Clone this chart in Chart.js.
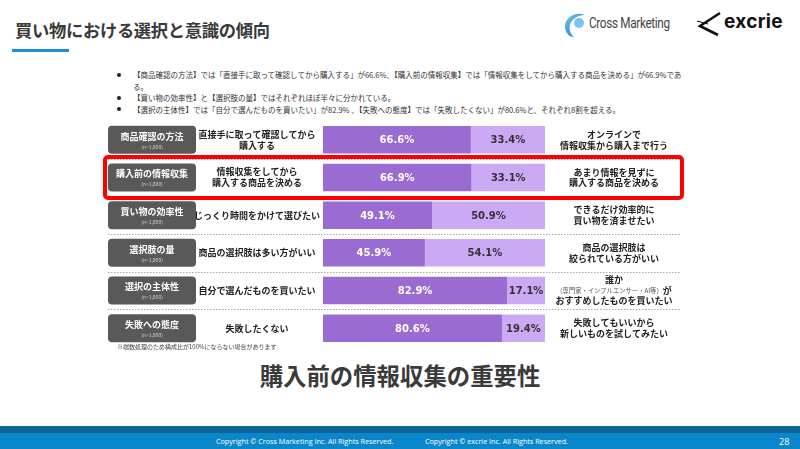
<!DOCTYPE html>
<html lang="ja">
<head>
<meta charset="utf-8">
<script src="https://cdn.jsdelivr.net/npm/chart.js@4/dist/chart.umd.min.js"></script>
<style>
    body { margin: 0; width: 800px; height: 449px; background: #fff; position: relative; overflow: hidden;
        font-family: "Noto Sans CJK JP", "Noto Sans", sans-serif; color: #333; }
    .abs { position: absolute; }
    #title { left: 15px; top: 17px; font-size: 17.3px; font-weight: bold; color: #3a3a3a; letter-spacing: -0.3px; }
    #title-line { left: 12px; top: 49px; width: 57px; height: 3px; background: #1a8fd8; }
    #bullets { left: 117px; top: 69px; font-size: 7.5px; line-height: 11.5px; color: #333; }
    #bullets div { position: relative; padding-left: 16px; }
    #bullets div:before { content: ""; position: absolute; left: 0; top: 3.5px; width: 4px; height: 4px; border-radius: 2px; background: #222; }
    #note { left: 117px; top: 342px; font-size: 6px; color: #444; }
    #subtitle { left: 0; width: 800px; top: 358px; text-align: center; font-size: 23.4px; font-weight: bold; color: #3a3a3a; }
    #chart-wrap { left: 100px; top: 115px; }
    #footer-dark { left: 0; top: 426px; width: 800px; height: 7px; background: #0b6595; }
    #footer { left: 0; top: 433px; width: 800px; height: 16px; background: #0a87cb; color: #fff;
        font-family: "Open Sans", sans-serif; font-size: 7.2px; }
    #footer span { position: absolute; top: 3px; }
    #cm-text { left: 589px; top: 15px; font-family: "Liberation Sans Narrow", "Roboto", sans-serif; font-size: 14px; color: #444;
        letter-spacing: -0.4px; transform: scaleX(0.84); transform-origin: left top; }
    #ex-text { left: 724px; top: 10px; font-family: "Inter", "Roboto", sans-serif; font-weight: bold; font-size: 19px; color: #111; letter-spacing: 0.3px; }
</style>
</head>
<body>
<div id="title" class="abs">買い物における選択と意識の傾向</div>
<div id="title-line" class="abs"></div>

<svg class="abs" style="left:563px;top:12px" width="24" height="26" viewBox="0 0 24 26">
    <defs>
        <linearGradient id="g1" x1="0" y1="0" x2="1" y2="1">
            <stop offset="0" stop-color="#7cc6f0"/>
            <stop offset="1" stop-color="#0a6fc0"/>
        </linearGradient>
    </defs>
    <path d="M22 3 C12 -1 1 6 2 16 C3 22 7 25 11 25 C6 21 5 14 9 9 C12 5 17 3 22 3 Z" fill="url(#g1)"/>
    <circle cx="16" cy="11" r="5" fill="#5ab4ea" opacity="0.8"/>
</svg>
<div id="cm-text" class="abs">Cross Marketing</div>
<svg class="abs" style="left:696px;top:10px" width="28" height="28" viewBox="0 0 28 28">
    <path d="M24 3 L4 16 L22 25" fill="none" stroke="#111" stroke-width="2.6" stroke-linejoin="miter"/>
    <path d="M1 11 L12 14" stroke="#111" stroke-width="1.2"/>
</svg>
<div id="ex-text" class="abs">excrie</div>

<div id="bullets" class="abs">
    <div>【商品確認の方法】では「直接手に取って確認してから購入する」が66.6%、【購入前の情報収集】では「情報収集をしてから購入する商品を決める」が66.9%であ<br>る。</div>
    <div>【買い物の効率性】と【選択肢の量】ではそれぞれほぼ半々に分かれている。</div>
    <div>【選択の主体性】では「自分で選んだものを買いたい」が82.9% 、【失敗への態度】では「失敗したくない」が80.6%と、それぞれ8割を超える。</div>
</div>

<div id="chart-wrap" class="abs">
    <canvas id="chartChoice" width="600" height="240"></canvas>
</div>

<div id="note" class="abs">※端数処理のため構成比が100%にならない場合があります</div>
<div id="subtitle" class="abs">購入前の情報収集の重要性</div>

<div id="footer-dark" class="abs"></div>
<div id="footer" class="abs">
    <span style="left:216px">Copyright © Cross Marketing Inc. All Rights Reserved.</span>
    <span style="left:425px">Copyright © excrie Inc. All Rights Reserved.</span>
    <span style="left:779px;font-size:9px;top:2px">28</span>
</div>

<script>
const categories = ['商品確認の方法', '購入前の情報収集', '買い物の効率性', '選択肢の量', '選択の主体性', '失敗への態度']
const sampleSizes = ['(n=1,800)', '(n=1,800)', '(n=1,800)', '(n=1,800)', '(n=1,800)', '(n=1,800)']
const leftStatements = [
    ['直接手に取って確認してから', '購入する'],
    ['情報収集をしてから', '購入する商品を決める'],
    ['じっくり時間をかけて選びたい'],
    ['商品の選択肢は多い方がいい'],
    ['自分で選んだものを買いたい'],
    ['失敗したくない']
]
const rightStatements = [
    ['オンラインで', '情報収集から購入まで行う'],
    ['あまり情報を見ずに', '購入する商品を決める'],
    ['できるだけ効率的に', '買い物を済ませたい'],
    ['商品の選択肢は', '絞られている方がいい'],
    ['誰か', ['（専門家・インフルエンサー・AI等）', 'が'], 'おすすめしたものを買いたい'],
    ['失敗してもいいから', '新しいものを試してみたい']
]
const leftValues = [66.6, 66.9, 49.1, 45.9, 82.9, 80.6]
const rightValues = [33.4, 33.1, 50.9, 54.1, 17.1, 19.4]
const highlightRow = 1

const jp = '"Noto Sans CJK JP", sans-serif'

function roundRect(ctx, x, y, w, h, r) {
    ctx.beginPath()
    ctx.moveTo(x + r, y)
    ctx.arcTo(x + w, y, x + w, y + h, r)
    ctx.arcTo(x + w, y + h, x, y + h, r)
    ctx.arcTo(x, y + h, x, y, r)
    ctx.arcTo(x, y, x + w, y, r)
    ctx.closePath()
}

// row labels, separators, highlight box
const rowDecor = {
    id: 'rowDecor',
    beforeDatasetsDraw(chart) {
        const ctx = chart.ctx
        const yScale = chart.scales.y
        ctx.save()
        // dotted separators
        ctx.strokeStyle = '#a8a8a8'
        ctx.lineWidth = 1
        ctx.setLineDash([1.5, 1.5])
        for (let i = 0; i < categories.length - 1; i++) {
            let y = Math.round((yScale.getPixelForValue(i) + yScale.getPixelForValue(i + 1)) / 2) + 0.5
            ctx.beginPath()
            ctx.moveTo(8, y)
            ctx.lineTo(580, y)
            ctx.stroke()
        }
        ctx.setLineDash([])
        ctx.textAlign = 'center'
        ctx.textBaseline = 'middle'
        categories.forEach(function(cat, i) {
            let yc = yScale.getPixelForValue(i)
            // gray tag
            ctx.fillStyle = '#595959'
            roundRect(ctx, 8, yc - 14, 88, 28, 4)
            ctx.fill()
            ctx.fillStyle = '#ffffff'
            ctx.font = 'bold 9px ' + jp
            ctx.fillText(cat, 52, yc - 3.5)
            ctx.fillStyle = '#cfcfcf'
            ctx.font = '5px ' + jp
            ctx.fillText(sampleSizes[i], 52, yc + 7)
            // left statement
            ctx.fillStyle = '#222'
            ctx.font = 'bold 9px ' + jp
            let lines = leftStatements[i]
            lines.forEach(function(line, k) {
                ctx.fillText(line, 157, yc + (k - (lines.length - 1) / 2) * 11)
            })
            // right statement
            let rlines = rightStatements[i]
            rlines.forEach(function(line, k) {
                let y = yc + (k - (rlines.length - 1) / 2) * 10.5
                if (Array.isArray(line)) {
                    ctx.font = '6.3px ' + jp
                    let w1 = ctx.measureText(line[0]).width
                    ctx.font = 'bold 9px ' + jp
                    let w2 = ctx.measureText(line[1]).width
                    let x0 = 514 - (w1 + w2) / 2
                    ctx.textAlign = 'left'
                    ctx.fillStyle = '#555'
                    ctx.font = '6.3px ' + jp
                    ctx.fillText(line[0], x0, y)
                    ctx.fillStyle = '#222'
                    ctx.font = 'bold 9px ' + jp
                    ctx.fillText(line[1], x0 + w1, y)
                    ctx.textAlign = 'center'
                } else {
                    ctx.fillStyle = '#222'
                    ctx.font = 'bold 9px ' + jp
                    ctx.fillText(line, 514, y)
                }
            })
        })
        ctx.restore()
    },
    afterDatasetsDraw(chart) {
        const ctx = chart.ctx
        const yScale = chart.scales.y
        ctx.save()
        // value labels
        ctx.textAlign = 'center'
        ctx.textBaseline = 'middle'
        ctx.font = 'bold 10px "DejaVu Sans", sans-serif'
        chart.data.datasets.forEach(function(ds, d) {
            chart.getDatasetMeta(d).data.forEach(function(bar, i) {
                ctx.fillStyle = d == 0 ? '#ffffff' : '#333333'
                ctx.fillText(ds.data[i].toFixed(1) + '%', (bar.x + bar.base) / 2, bar.y + 1)
            })
        })
        // highlight box
        let yc = yScale.getPixelForValue(highlightRow)
        ctx.strokeStyle = '#ff0000'
        ctx.lineWidth = 4
        roundRect(ctx, 5, yc - 20.5, 577, 41, 3)
        ctx.stroke()
        ctx.restore()
    }
}

var ctx = document.getElementById('chartChoice').getContext('2d')
var chart = new Chart(ctx, {
    type: 'bar',
    data: {
        labels: categories,
        datasets: [{
            label: 'left',
            data: leftValues,
            backgroundColor: '#9a6bd1',
            barPercentage: 0.73,
            categoryPercentage: 1
        }, {
            label: 'right',
            data: rightValues,
            backgroundColor: '#cba9f5',
            barPercentage: 0.73,
            categoryPercentage: 1
        }]
    },
    options: {
        indexAxis: 'y',
        responsive: false,
        animation: false,
        layout: { padding: { left: 223, right: 155, top: 6, bottom: 8 } },
        plugins: { legend: { display: false }, tooltip: { enabled: false } },
        scales: {
            x: { stacked: true, min: 0, max: 100, display: false },
            y: { stacked: true, display: false }
        }
    },
    plugins: [rowDecor]
})
</script>
</body>
</html>
